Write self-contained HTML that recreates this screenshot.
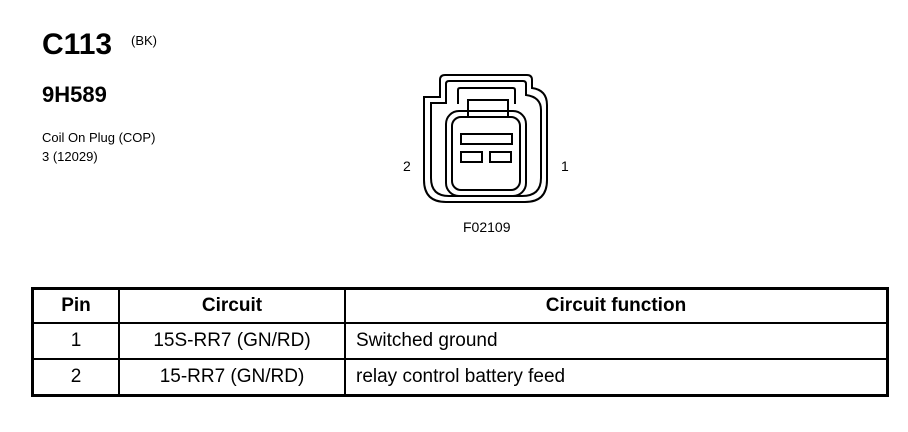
<!DOCTYPE html>
<html><head><meta charset="utf-8"><style>
body{margin:0;width:908px;height:432px;background:#fff;font-family:"Liberation Sans",Arial,sans-serif;color:#000;position:relative;overflow:hidden}
.a{position:absolute;white-space:nowrap}
table{position:absolute;left:31px;top:287px;border-collapse:collapse;border:3px solid #000}
td{border:2px solid #000;font-size:19px;height:34px;padding:0}
th{border:2px solid #000;font-size:19px;height:32px;padding:0}
</style></head><body>
<div class="a" style="left:42px;top:28px;font-size:30px;font-weight:bold">C113</div>
<div class="a" style="left:131px;top:33px;font-size:13px">(BK)</div>
<div class="a" style="left:42px;top:82px;font-size:22px;font-weight:bold">9H589</div>
<div class="a" style="left:42px;top:130px;font-size:13px">Coil On Plug (COP)</div>
<div class="a" style="left:42px;top:149px;font-size:13px">3 (12029)</div>
<svg class="a" style="left:0;top:0" width="908" height="260">
<g fill="none" stroke="#000" stroke-width="2">
<path d="M424,97 L440,97 L440,80 Q440,75 445,75 L527,75 Q532,75 532,80 L532,88 Q547,90 547,105 L547,180 Q547,202 525,202 L446,202 Q424,202 424,180 Z"/>
<path d="M431,103 L446,103 L446,84 Q446,81 449,81 L523,81 Q526,81 526,84 L526,95 Q541,97 541,110 L541,178 Q541,196 522,196 L449,196 Q431,196 431,178 Z"/>
<path d="M458,104 L458,90 Q458,88 460,88 L513,88 Q515,88 515,90 L515,104"/>
<path d="M468,117 L468,100 L508,100 L508,117"/>
<rect x="452" y="117" width="68" height="73" rx="9"/>
<rect x="446" y="111" width="80" height="85" rx="13"/>
<rect x="461" y="134" width="51" height="10"/>
<rect x="461" y="152" width="21" height="10"/>
<rect x="490" y="152" width="21" height="10"/>
</g>
<text x="403" y="171" font-size="14" font-family="Liberation Sans,sans-serif">2</text>
<text x="561" y="171" font-size="14" font-family="Liberation Sans,sans-serif">1</text>
<text x="463" y="232" font-size="14" font-family="Liberation Sans,sans-serif">F02109</text>
</svg>
<table>
<tr><th style="width:84px">Pin</th><th style="width:224px">Circuit</th><th style="width:540px">Circuit function</th></tr>
<tr><td style="text-align:center">1</td><td style="text-align:center">15S-RR7 (GN/RD)</td><td style="padding-left:10px">Switched ground</td></tr>
<tr><td style="text-align:center">2</td><td style="text-align:center">15-RR7 (GN/RD)</td><td style="padding-left:10px">relay control battery feed</td></tr>
</table>
</body></html>
